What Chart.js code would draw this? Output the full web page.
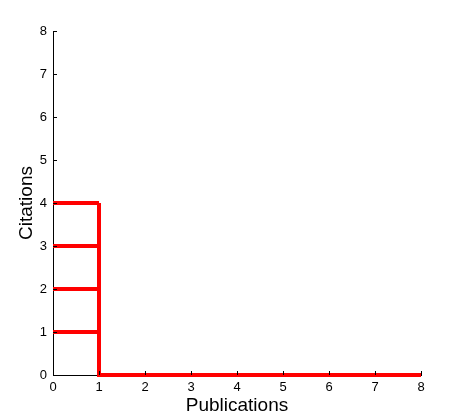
<!DOCTYPE html>
<html>
<head>
<meta charset="utf-8">
<script src="https://cdn.jsdelivr.net/npm/chart.js@4"></script>
<style>
  html, body { margin: 0; padding: 0; background: #fff; }
  #wrap { width: 470px; height: 419px; }
</style>
</head>
<body>
<div id="wrap"><canvas id="chart"></canvas></div>
<script>
// Data
const xTicks = [0, 1, 2, 3, 4, 5, 6, 7, 8];
const yTicks = [0, 1, 2, 3, 4, 5, 6, 7, 8];
const levelY = [1, 2, 3, 4];        // horizontal bars from x=0 to x=1
const levelX = [0, 1];
const stepX = [1, 1, 8];            // vertical drop then flat tail
const stepY = [4, 0, 0];

const RED = '#ff0000';
const FONT = '"Liberation Sans", Arial, sans-serif';

// Build datasets
const datasets = levelY.map(y => ({
    data: levelX.map(x => ({ x: x, y: y })),
    showLine: true,
    borderColor: RED,
    borderWidth: 4,
    pointRadius: 0,
    borderCapStyle: 'butt',
    clip: false
}));
datasets.push({
    data: stepX.map((x, i) => ({ x: x, y: stepY[i] })),
    showLine: true,
    borderColor: RED,
    borderWidth: 4,
    pointRadius: 0,
    borderCapStyle: 'butt',
    borderJoinStyle: 'miter',
    clip: false
});

// Inward tick marks, MATLAB style
const innerTicks = {
    id: 'innerTicks',
    afterDatasetsDraw(chart) {
        const { ctx, chartArea, scales } = chart;
        ctx.save();
        ctx.strokeStyle = '#000';
        ctx.lineWidth = 1;
        ctx.beginPath();
        xTicks.forEach(v => {
            const px = Math.round(scales.x.getPixelForValue(v)) + 0.5;
            ctx.moveTo(px, chartArea.bottom);
            ctx.lineTo(px, chartArea.bottom - 4);
        });
        yTicks.forEach(v => {
            const py = Math.round(scales.y.getPixelForValue(v)) + 0.5;
            ctx.moveTo(chartArea.left, py);
            ctx.lineTo(chartArea.left + 4, py);
        });
        ctx.stroke();
        ctx.restore();
    }
};

new Chart(document.getElementById('chart').getContext('2d'), {
    type: 'scatter',
    data: { datasets: datasets },
    options: {
        responsive: true,
        maintainAspectRatio: false,
        animation: false,
        layout: { padding: { left: 0, right: 49, top: 31, bottom: 0 } },
        plugins: {
            legend: { display: false },
            tooltip: { enabled: false }
        },
        scales: {
            x: {
                type: 'linear',
                min: 0,
                max: 8,
                afterBuildTicks: scale => { scale.ticks = xTicks.map(v => ({ value: v })); },
                afterFit: scale => { scale.height = 44; },
                grid: { display: false, drawTicks: false },
                border: { display: true, color: '#000', width: 1 },
                ticks: { color: '#000', padding: 5, font: { family: FONT, size: 13 } },
                title: {
                    display: true,
                    text: 'Publications',
                    color: '#000',
                    padding: { top: 0, bottom: 2 },
                    font: { family: FONT, size: 19 }
                }
            },
            y: {
                type: 'linear',
                min: 0,
                max: 8,
                afterBuildTicks: scale => { scale.ticks = yTicks.map(v => ({ value: v })); },
                afterFit: scale => { scale.width = 53; },
                grid: { display: false, drawTicks: false },
                border: { display: true, color: '#000', width: 1 },
                ticks: { color: '#000', padding: 6, font: { family: FONT, size: 13 } },
                title: {
                    display: true,
                    text: 'Citations',
                    color: '#000',
                    padding: { top: 15, bottom: 0 },
                    font: { family: FONT, size: 19 }
                }
            }
        }
    },
    plugins: [innerTicks]
});
</script>
</body>
</html>
